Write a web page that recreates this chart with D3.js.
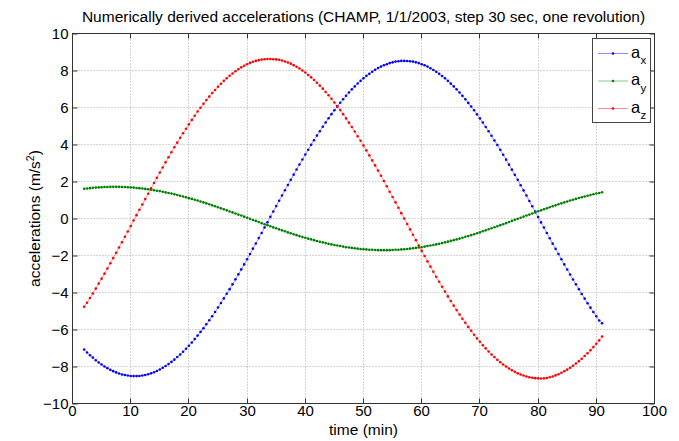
<!DOCTYPE html>
<html><head><meta charset="utf-8">
<script src="https://cdn.jsdelivr.net/npm/d3@7"></script>
<style>
body{margin:0;background:#fff}
svg{display:block}
text{font-family:"Liberation Sans",Arial,Helvetica,sans-serif;fill:#000}
</style>
</head><body>
<svg id="c" width="679" height="441"></svg>
<script>
const titleText = "Numerically derived accelerations (CHAMP, 1/1/2003, step 30 sec, one revolution)";
const xLabel = "time (min)";
const xTicks = [0,10,20,30,40,50,60,70,80,90,100];
const yTicks = [-10,-8,-6,-4,-2,0,2,4,6,8,10];
const seriesNames = ["x","y","z"];
const seriesColors = ["#0000ff","#008000","#ff0000"];

const time = [2,2.5,3,3.5,4,4.5,5,5.5,6,6.5,7,7.5,8,8.5,9,9.5,10,10.5,11,11.5,12,12.5,13,13.5,14,14.5,15,15.5,16,16.5,17,17.5,18,18.5,19,19.5,20,20.5,21,21.5,22,22.5,23,23.5,24,24.5,25,25.5,26,26.5,27,27.5,28,28.5,29,29.5,30,30.5,31,31.5,32,32.5,33,33.5,34,34.5,35,35.5,36,36.5,37,37.5,38,38.5,39,39.5,40,40.5,41,41.5,42,42.5,43,43.5,44,44.5,45,45.5,46,46.5,47,47.5,48,48.5,49,49.5,50,50.5,51,51.5,52,52.5,53,53.5,54,54.5,55,55.5,56,56.5,57,57.5,58,58.5,59,59.5,60,60.5,61,61.5,62,62.5,63,63.5,64,64.5,65,65.5,66,66.5,67,67.5,68,68.5,69,69.5,70,70.5,71,71.5,72,72.5,73,73.5,74,74.5,75,75.5,76,76.5,77,77.5,78,78.5,79,79.5,80,80.5,81,81.5,82,82.5,83,83.5,84,84.5,85,85.5,86,86.5,87,87.5,88,88.5,89,89.5,90,90.5,91];

const ax = [-7.08,-7.24,-7.39,-7.52,-7.66,-7.78,-7.89,-8.00,-8.09,-8.18,
-8.25,-8.32,-8.38,-8.43,-8.46,-8.49,-8.51,-8.52,-8.52,-8.51,
-8.49,-8.46,-8.42,-8.37,-8.31,-8.24,-8.16,-8.07,-7.97,-7.87,
-7.75,-7.63,-7.49,-7.35,-7.20,-7.04,-6.88,-6.70,-6.52,-6.33,
-6.13,-5.93,-5.72,-5.50,-5.28,-5.05,-4.81,-4.57,-4.32,-4.07,
-3.82,-3.56,-3.29,-3.02,-2.75,-2.48,-2.20,-1.92,-1.63,-1.35,
-1.06,-0.78,-0.49,-0.20,0.09,0.38,0.67,0.96,1.24,1.53,
1.81,2.09,2.37,2.65,2.92,3.19,3.46,3.72,3.98,4.23,
4.48,4.72,4.96,5.19,5.42,5.64,5.85,6.06,6.26,6.45,
6.63,6.81,6.98,7.14,7.30,7.44,7.58,7.71,7.82,7.93,
8.04,8.13,8.21,8.28,8.34,8.40,8.44,8.48,8.50,8.52,
8.52,8.51,8.50,8.48,8.44,8.40,8.34,8.28,8.21,8.12,
8.03,7.93,7.82,7.70,7.58,7.44,7.29,7.14,6.98,6.81,
6.63,6.45,6.25,6.05,5.85,5.63,5.41,5.19,4.95,4.72,
4.47,4.22,3.97,3.71,3.45,3.18,2.91,2.64,2.36,2.09,
1.80,1.52,1.24,0.95,0.66,0.37,0.08,-0.21,-0.49,-0.78,
-1.07,-1.36,-1.64,-1.92,-2.20,-2.48,-2.76,-3.03,-3.30,-3.56,
-3.82,-4.08,-4.33,-4.58,-4.82,-5.05,-5.28,-5.51,-5.66];

const ay = [1.61,1.62,1.64,1.66,1.67,1.68,1.69,1.70,1.70,1.71,
1.71,1.71,1.71,1.70,1.70,1.69,1.68,1.67,1.65,1.64,
1.62,1.60,1.58,1.56,1.53,1.50,1.48,1.45,1.41,1.38,
1.35,1.31,1.27,1.23,1.19,1.15,1.10,1.06,1.01,0.97,
0.92,0.87,0.82,0.77,0.71,0.66,0.61,0.55,0.50,0.44,
0.38,0.33,0.27,0.21,0.16,0.10,0.04,-0.02,-0.08,-0.13,
-0.19,-0.25,-0.31,-0.36,-0.42,-0.48,-0.53,-0.59,-0.64,-0.69,
-0.75,-0.80,-0.85,-0.90,-0.95,-1.00,-1.04,-1.09,-1.13,-1.17,
-1.22,-1.26,-1.29,-1.33,-1.37,-1.40,-1.43,-1.46,-1.49,-1.52,
-1.55,-1.57,-1.59,-1.61,-1.63,-1.65,-1.66,-1.67,-1.69,-1.69,
-1.70,-1.71,-1.71,-1.71,-1.71,-1.71,-1.70,-1.69,-1.69,-1.67,
-1.66,-1.65,-1.63,-1.61,-1.59,-1.57,-1.55,-1.52,-1.49,-1.46,
-1.43,-1.40,-1.37,-1.33,-1.29,-1.25,-1.21,-1.17,-1.13,-1.09,
-1.04,-0.99,-0.95,-0.90,-0.85,-0.80,-0.75,-0.69,-0.64,-0.58,
-0.53,-0.47,-0.42,-0.36,-0.31,-0.25,-0.19,-0.13,-0.07,-0.02,
0.04,0.10,0.16,0.21,0.27,0.33,0.39,0.44,0.50,0.55,
0.61,0.66,0.71,0.77,0.82,0.87,0.92,0.97,1.01,1.06,
1.11,1.15,1.19,1.23,1.27,1.31,1.35,1.38,1.42];

const az = [-4.77,-4.55,-4.30,-4.05,-3.79,-3.52,-3.25,-2.98,-2.70,-2.42,
-2.14,-1.86,-1.57,-1.28,-0.99,-0.70,-0.41,-0.11,0.18,0.47,
0.76,1.05,1.34,1.63,1.92,2.20,2.49,2.76,3.04,3.31,
3.58,3.85,4.10,4.36,4.61,4.85,5.09,5.33,5.55,5.78,
5.99,6.20,6.40,6.59,6.78,6.95,7.12,7.28,7.44,7.58,
7.72,7.84,7.96,8.07,8.17,8.26,8.34,8.41,8.47,8.52,
8.56,8.59,8.61,8.62,8.62,8.61,8.60,8.58,8.54,8.49,
8.43,8.37,8.29,8.20,8.11,8.00,7.89,7.76,7.63,7.49,
7.34,7.18,7.02,6.84,6.66,6.47,6.27,6.07,5.86,5.64,
5.41,5.18,4.95,4.70,4.45,4.20,3.94,3.68,3.41,3.14,
2.87,2.59,2.31,2.03,1.74,1.45,1.16,0.87,0.58,0.29,
0.00,-0.30,-0.59,-0.88,-1.17,-1.46,-1.75,-2.03,-2.32,-2.60,
-2.88,-3.15,-3.42,-3.69,-3.95,-4.21,-4.46,-4.71,-4.95,-5.19,
-5.42,-5.64,-5.86,-6.07,-6.28,-6.48,-6.66,-6.85,-7.02,-7.19,
-7.35,-7.49,-7.64,-7.77,-7.89,-8.00,-8.11,-8.20,-8.29,-8.37,
-8.43,-8.49,-8.54,-8.58,-8.61,-8.63,-8.64,-8.65,-8.64,-8.62,
-8.58,-8.54,-8.48,-8.42,-8.34,-8.26,-8.17,-8.07,-7.96,-7.84,
-7.71,-7.58,-7.43,-7.28,-7.12,-6.95,-6.77,-6.59,-6.38];

const series = [ax, ay, az];

const W = 679, H = 441;
const L = 72.5, R = 654.5, T = 33.5, B = 403.5;
const x = d3.scaleLinear().domain([0,100]).range([L,R]);
const y = d3.scaleLinear().domain([-10,10]).range([B,T]);
const cx = v => Math.round(x(v) - 0.5) + 0.5;

const svg = d3.select("#c");
svg.append("rect").attr("width",W).attr("height",H).attr("fill","#fff");

// grid
const grid = svg.append("g").attr("stroke","#a8a8a8").attr("stroke-width",1).attr("stroke-dasharray","1,2").attr("fill","none");
grid.selectAll("line.gx").data(xTicks.slice(1,-1)).join("line").attr("class","gx")
  .attr("x1",d=>cx(d)).attr("x2",d=>cx(d)).attr("y1",T).attr("y2",B);
grid.selectAll("line.gy").data(yTicks.slice(1,-1)).join("line").attr("class","gy")
  .attr("y1",d=>y(d)).attr("y2",d=>y(d)).attr("x1",L).attr("x2",R);

// axes
const fs = 15;
const xb = svg.append("g").attr("transform",`translate(0,${B})`)
  .call(d3.axisBottom(x).tickValues(xTicks).tickSizeInner(-5).tickSizeOuter(0).tickPadding(2).tickFormat(d3.format("d")));
const yl = svg.append("g").attr("transform",`translate(${L},0)`)
  .call(d3.axisLeft(y).tickValues(yTicks).tickSizeInner(-5).tickSizeOuter(0).tickPadding(4).tickFormat(d3.format("d")));
const xt = svg.append("g").attr("transform",`translate(0,${T})`)
  .call(d3.axisTop(x).tickValues(xTicks).tickSizeInner(-5).tickSizeOuter(0).tickFormat(""));
const yr = svg.append("g").attr("transform",`translate(${R},0)`)
  .call(d3.axisRight(y).tickValues(yTicks).tickSizeInner(-5).tickSizeOuter(0).tickFormat(""));
[xb,yl,xt,yr].forEach(g=>{
  g.select(".domain").remove();
  g.selectAll(".tick line").attr("stroke","#333");
  g.selectAll(".tick text").attr("font-size",fs).attr("font-family",'"Liberation Sans",Arial,sans-serif').attr("fill","#000");
});
xb.selectAll(".tick").attr("transform",d=>`translate(${cx(d)},0)`);
xt.selectAll(".tick").attr("transform",d=>`translate(${cx(d)},0)`);

// frame
svg.append("rect").attr("x",L).attr("y",T).attr("width",R-L).attr("height",B-T)
  .attr("fill","none").attr("stroke","#333").attr("stroke-width",1);

// series
const line = d3.line().x((d,i)=>x(time[i])).y(d=>y(d));
series.forEach((s,k)=>{
  const g = svg.append("g");
  g.append("path").datum(s).attr("d",line).attr("fill","none")
    .attr("stroke",seriesColors[k]).attr("stroke-width",0.6).attr("stroke-opacity",0.7);
  g.selectAll("circle").data(s).join("circle")
    .attr("cx",(d,i)=>x(time[i])).attr("cy",d=>y(d)).attr("r",1.3)
    .attr("fill",seriesColors[k]);
});

// title and labels
svg.append("text").attr("x",(L+R)/2).attr("y",22).attr("text-anchor","middle")
  .attr("font-size",15.5).text(titleText);
svg.append("text").attr("x",(L+R)/2).attr("y",435).attr("text-anchor","middle")
  .attr("font-size",15.5).text(xLabel);
const ylab = svg.append("text").attr("transform",`translate(40,${(T+B)/2}) rotate(-90)`)
  .attr("text-anchor","middle").attr("font-size",15.5);
ylab.append("tspan").text("accelerations (m/s");
ylab.append("tspan").attr("font-size",10.5).attr("dy",-6).text("2");
ylab.append("tspan").attr("dy",6).text(")");

// legend
const lg = svg.append("g");
lg.append("rect").attr("x",592.5).attr("y",38.5).attr("width",58).attr("height",84)
  .attr("fill","#fff").attr("stroke","#444").attr("stroke-width",1);
seriesNames.forEach((n,k)=>{
  const yy = 53.5 + k*27.5;
  lg.append("line").attr("x1",598).attr("x2",628).attr("y1",yy).attr("y2",yy)
    .attr("stroke",seriesColors[k]).attr("stroke-width",1).attr("stroke-opacity",0.45);
  lg.append("circle").attr("cx",613).attr("cy",yy).attr("r",1.3).attr("fill",seriesColors[k]);
  lg.append("text").attr("x",631).attr("y",yy+4).attr("font-size",16.5).text("a");
  lg.append("text").attr("x",640.5).attr("y",yy+10.5).attr("font-size",11.5).text(n);
});
</script>
</body></html>
